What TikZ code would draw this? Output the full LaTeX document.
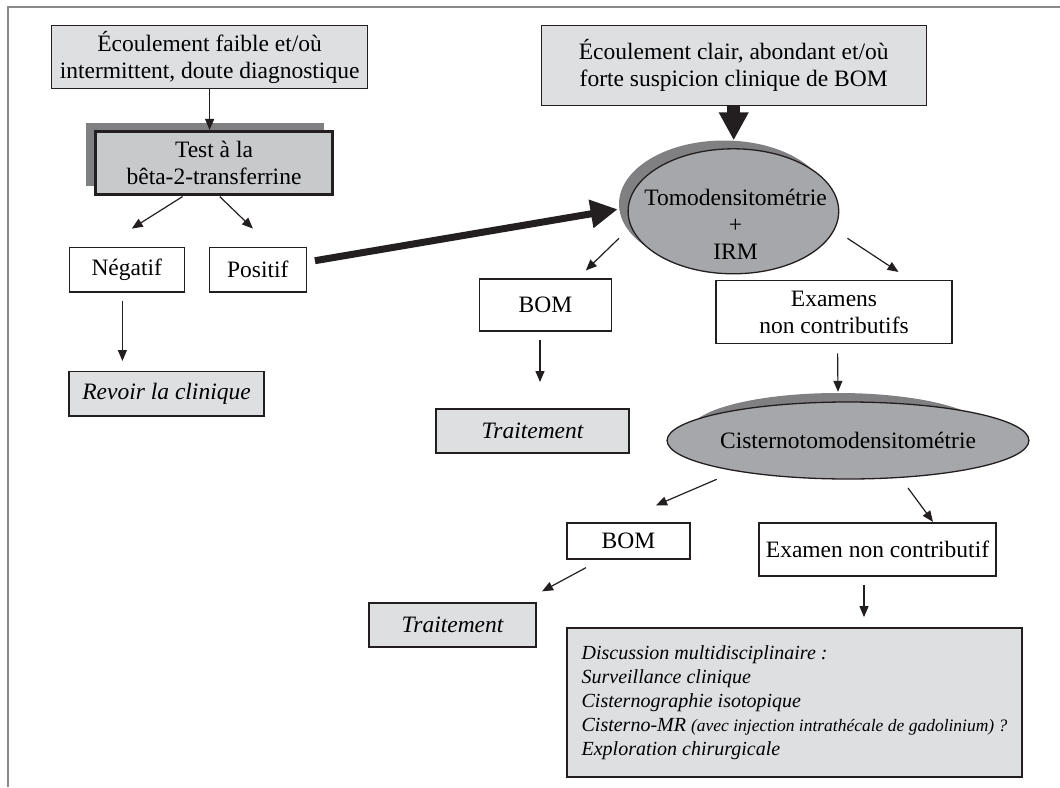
\documentclass[tikz,border=0pt]{standalone}
\usepackage{fontspec}
\setmainfont{Liberation Serif}
\usetikzlibrary{shapes.geometric,arrows.meta,calc}
\definecolor{lightg}{RGB}{222,223,225}
\definecolor{midg}{RGB}{200,201,203}
\definecolor{shadowg}{RGB}{128,128,131}
\definecolor{ellg}{RGB}{166,167,170}
\definecolor{linec}{RGB}{35,31,32}
\definecolor{framec}{RGB}{138,138,140}
\newcommand\mainsz{\fontsize{23.5}{27}\selectfont}
\newcommand\discsz{\fontsize{20}{24}\selectfont}
\newcommand\smallsz{\fontsize{17.5}{24}\selectfont}
\begin{document}
\begin{tikzpicture}[x=1pt,y=-1pt,
  box/.style={draw=linec, line width=1.3pt, inner sep=0pt, align=center, font=\mainsz},
  lbox/.style={box, fill=lightg},
  wbox/.style={box, fill=white},
  ibox/.style={lbox, font=\mainsz\itshape},
  shad/.style={fill=shadowg, draw=none, inner sep=0pt},
  ell/.style={ellipse, draw=linec, line width=1.3pt, fill=ellg, inner sep=0pt},
  ellshad/.style={ellipse, fill=shadowg, draw=none, inner sep=0pt},
  thinarr/.style={draw=linec, line width=1.2pt, -{Triangle[length=11pt,width=9pt]}},
  thickarr/.style={draw=linec, line width=7pt, -{Triangle[length=27pt,width=27pt]}},
  fatarr/.style={draw=linec, line width=12.5pt, -{Triangle[length=28pt,width=28pt]}}
]
\useasboundingbox (0,0) rectangle (1060,787);
\fill[white] (0,0) rectangle (1060,787);
% frame
\draw[framec, line width=2pt] (7.5,787) -- (7.5,7) -- (1060,7);

% left column
\node[lbox, minimum width=316pt, minimum height=63pt] (A) at (209.6,57)
  {Écoulement faible et/où\\intermittent, doute diagnostique};
\node[shad, minimum width=238pt, minimum height=63.5pt] (Bs) at (204.9,154.5) {};
\node[box, fill=midg, line width=2.6pt, minimum width=236.6pt, minimum height=63.5pt] (B) at (214,163)
  {Test à la\\bêta-2-transferrine};
\node[wbox, minimum width=115pt, minimum height=44.7pt] (neg) at (126.75,269.5) {Négatif};
\node[wbox, minimum width=97pt, minimum height=44.7pt] (pos) at (257.8,269.5) {Positif};
\node[ibox, minimum width=195pt, minimum height=44.3pt] (revoir) at (166.5,393.8) {Revoir la clinique};

% right column
\node[lbox, minimum width=385pt, minimum height=80.4pt] (C) at (733.7,65.6)
  {Écoulement clair, abondant et/où\\forte suspicion clinique de BOM};
\node[ellshad, minimum width=210pt, minimum height=127pt] (E1s) at (724,204) {};
\node[ell, minimum width=210.6pt, minimum height=125pt] (E1) at (733.4,211.3) {};
\node[font=\mainsz, align=center, inner sep=0pt] (E1t) at (735.5,224)
  {Tomodensitométrie\\+\\IRM};
\node[wbox, minimum width=132.4pt, minimum height=52pt] (bom1) at (545.5,305) {BOM};
\node[wbox, minimum width=236pt, minimum height=63pt] (exams) at (834,312)
  {Examens\\non contributifs};
\node[ibox, minimum width=193pt, minimum height=44pt] (trait1) at (532.5,431) {Traitement};

\node[ellshad, minimum width=297pt, minimum height=77pt] (E2s) at (838,431.5) {};
\node[ell, minimum width=296pt, minimum height=77pt, font=\mainsz] (E2) at (848,440.5)
  {Cisternotomodensitométrie};
\node[wbox, minimum width=123pt, minimum height=36pt] (bom2) at (628.5,541) {BOM};
\node[wbox, minimum width=237pt, minimum height=53pt] (exam2) at (877.5,549.5) {Examen non contributif};
\node[ibox, minimum width=167pt, minimum height=44pt] (trait2) at (452.5,625) {Traitement};
\node[lbox, line width=1.8pt, minimum width=455pt, minimum height=149pt,
      inner sep=0pt, align=left, font=\discsz\itshape] (disc) at (794.5,702.5)
  {Discussion multidisciplinaire :\\
   Surveillance clinique\\
   Cisternographie isotopique\\
   Cisterno-MR {\smallsz(avec injection intrathécale de gadolinium) ?}\\
   Exploration chirurgicale};

% connectors
\draw[thinarr] (A.south) -- (A.south |- B.north);
\draw[thinarr] ($(B.south)+(-31.4,0.5)$) -- ($(neg.north)+(5,-17.9)$);
\draw[thinarr] ($(B.south)+(5.7,0.5)$) -- ($(pos.north)+(-4.9,-17.9)$);
\draw[thinarr] ($(neg.south)+(-4.35,8.4)$) -- ($(revoir.north)+(-44.1,-10)$);
\draw[thickarr] ($(pos.east)+(8,-8.8)$) -- ($(E1.west)+(-9.8,-2)$);
\draw[fatarr] (C.south) -- (C.south |- E1s.north);
\draw[thinarr] ($(E1.west)+(-8.5,27)$) -- ($(bom1.north)+(40.3,-7.9)$);
\draw[thinarr] ($(E1.east)+(8.1,27)$) -- ($(exams.north)+(64.5,-7.9)$);
\draw[thinarr] ($(bom1.south)+(-5.5,8)$) -- ($(trait1.north)+(7.5,-26.3)$);
\draw[thinarr] ($(exams.south)+(3.6,9.3)$) -- ($(E2s.north)+(0,-1)$);
\draw[thinarr] ($(E2.center)+(-131.3,38.8)$) -- ($(bom2.north)+(27.5,-17)$);
\draw[thinarr] ($(E2.center)+(60,47.5)$) -- ($(exam2.north)+(55.5,-0.5)$);
\draw[thinarr] ($(bom2.south)+(-42.5,8)$) -- ($(trait2.north)+(89.5,-11)$);
\draw[thinarr] ($(exam2.south)+(-13.5,8)$) -- ($(disc.north)+(69.5,-10)$);
\end{tikzpicture}
\end{document}
